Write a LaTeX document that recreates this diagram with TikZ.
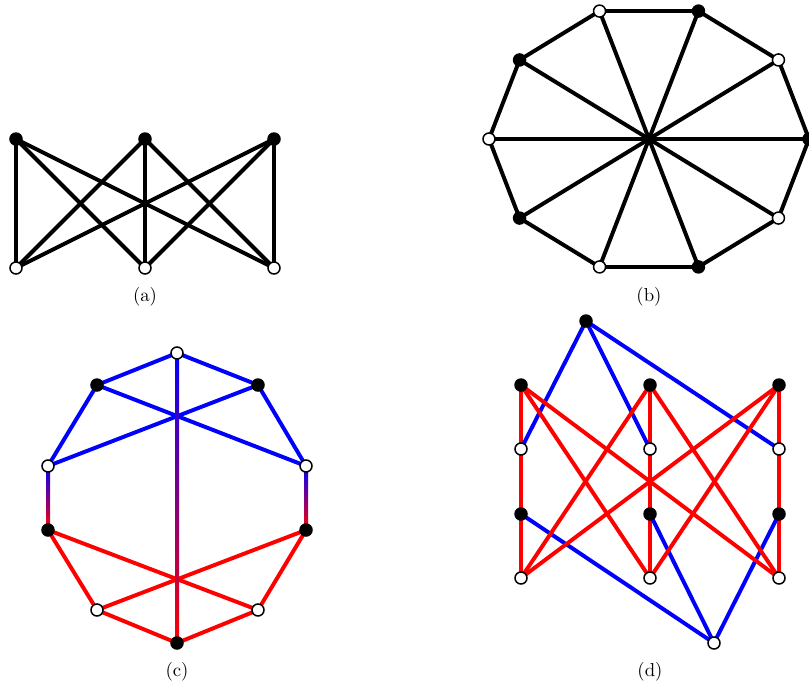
\documentclass[tikz,border=0pt]{standalone}
\usepackage{tikz}
\usetikzlibrary{backgrounds,calc}
\tikzstyle{blackv} = [circle, fill=black, inner sep=0pt, minimum size=7.2pt]
\tikzstyle{whitev} = [circle, draw=black, fill=white, line width=0.8pt, inner sep=0pt, minimum size=6.4pt]
\tikzstyle{edge} = [line width=2.1pt]

\begin{document}
\begin{tikzpicture}[x=0.533pt, y=-0.533pt]
    \useasboundingbox (0,0) rectangle (809,688);

    % (a) two rows of three
    \foreach \i/\x in {1/16, 2/145, 3/274} {
        \node[blackv] (at\i) at (\x, 139) {};
        \node[whitev] (ab\i) at (\x, 268) {};
    }
    \begin{scope}[on background layer]
        \foreach \i in {1,2,3} {
            \foreach \j in {1,2,3} {
                \draw[edge] (at\i.center) -- (ab\j.center);
            }
        }
    \end{scope}
    \node (capa) at (145, 297) {(a)};

    % (b) ten vertices on an ellipse, cycle plus diameters
    \foreach \i in {0,2,...,8} {
        \node[blackv] (b\i) at ({649+160*cos(36*\i)}, {139-134.5*sin(36*\i)}) {};
    }
    \foreach \i in {1,3,...,9} {
        \node[whitev] (b\i) at ({649+160*cos(36*\i)}, {139-134.5*sin(36*\i)}) {};
    }
    \begin{scope}[on background layer]
        \foreach \i in {0,...,9} {
            \pgfmathtruncatemacro{\j}{mod(\i+1,10)}
            \draw[edge] (b\i.center) -- (b\j.center);
        }
        \foreach \i in {0,...,4} {
            \pgfmathtruncatemacro{\j}{\i+5}
            \draw[edge] (b\i.center) -- (b\j.center);
        }
    \end{scope}
    \node (capb) at (649, 297) {(b)};

    % (c) ten-gon, blue half and red half
    \foreach \i/\x/\y in {0/177/353, 2/306/466, 4/258/610, 6/97/610, 8/48/466} {
        \node[whitev] (c\i) at (\x, \y) {};
    }
    \foreach \i/\x/\y in {1/258/385, 3/306/530, 5/177/643, 7/48/530, 9/97/385} {
        \node[blackv] (c\i) at (\x, \y) {};
    }
    \begin{scope}[on background layer]
        \foreach \i/\j in {0/1, 1/2, 8/9, 9/0, 9/2, 1/8} {
            \draw[edge, blue] (c\i.center) -- (c\j.center);
        }
        \foreach \i/\j in {3/4, 4/5, 5/6, 6/7, 7/4, 3/6} {
            \draw[edge, red] (c\i.center) -- (c\j.center);
        }
        % blue to red edges
        \foreach \i/\j in {2/3, 8/7, 0/5} {
            \shade[top color=blue, bottom color=red]
                ($(c\i.center)+(-2,0)$) rectangle ($(c\j.center)+(2,0)$);
        }
    \end{scope}
    \node (capc) at (177, 672) {(c)};

    % (d) four rows of three plus two extra vertices
    \foreach \i/\x in {1/521, 2/650, 3/779} {
        \node[blackv] (d1\i) at (\x, 385) {};
        \node[whitev] (d2\i) at (\x, 449) {};
        \node[blackv] (d3\i) at (\x, 514) {};
        \node[whitev] (d4\i) at (\x, 578) {};
    }
    \node[blackv] (dt) at (586, 321) {};
    \node[whitev] (db) at (714, 643) {};
    \begin{scope}[on background layer]
        \foreach \i in {1,2,3} {
            \draw[edge, red] (d1\i.center) -- (d2\i.center) -- (d3\i.center) -- (d4\i.center);
            \draw[edge, blue] (dt.center) -- (d2\i.center);
            \draw[edge, blue] (db.center) -- (d3\i.center);
        }
        \foreach \i/\j in {1/2, 1/3, 2/1, 2/3, 3/1, 3/2} {
            \draw[edge, red] (d1\i.center) -- (d4\j.center);
        }
    \end{scope}
    \node (capd) at (650, 672) {(d)};
\end{tikzpicture}
\end{document}
